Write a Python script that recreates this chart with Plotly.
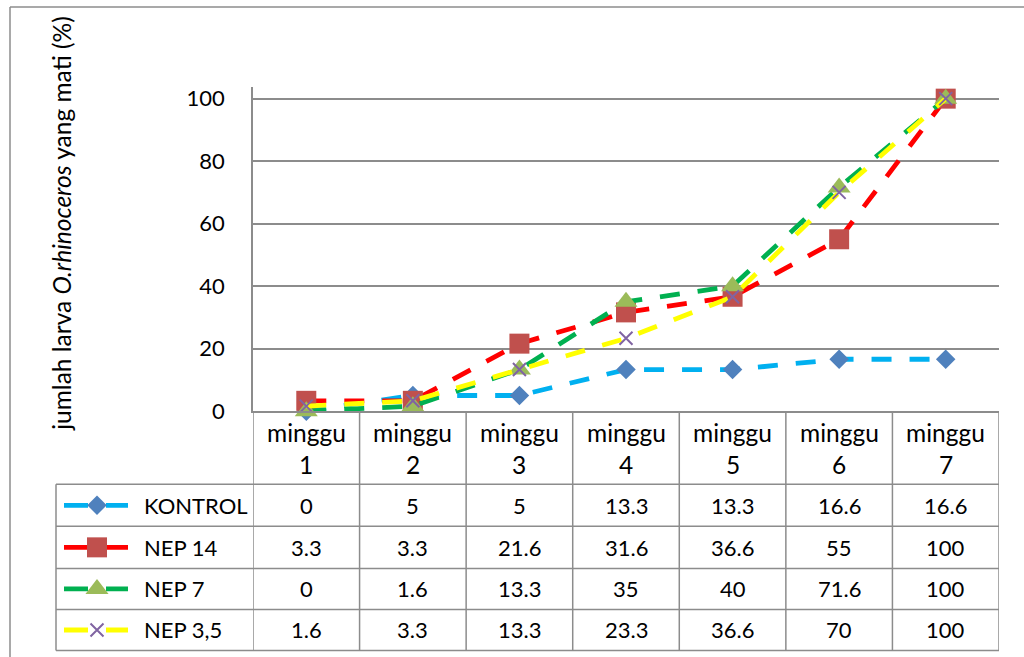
import plotly.graph_objects as go

# ---- data ----
categories = ["minggu 1", "minggu 2", "minggu 3", "minggu 4", "minggu 5", "minggu 6", "minggu 7"]
series_names = ["KONTROL", "NEP 14", "NEP 7", "NEP 3,5"]
kontrol = [0, 5, 5, 13.3, 13.3, 16.6, 16.6]
nep14 = [3.3, 3.3, 21.6, 31.6, 36.6, 55, 100]
nep7 = [0, 1.6, 13.3, 35, 40, 71.6, 100]
nep35 = [1.6, 3.3, 13.3, 23.3, 36.6, 70, 100]
y_ticks = [0, 20, 40, 60, 80, 100]
y_title = "jumlah larva <i>O.rhinoceros</i> yang mati (%)"

# ---- page geometry ----
# the captured page area is a bit taller than the picture; compensate vertically
W = 1024
K = 657 / 673          # picture px per page px (vertical)
A = 2.5                # picture y of page top
H = 674                # figure height in page px

FONT = "Lato, Carlito, 'Open Sans', sans-serif"
FS = 22
FS_HEAD = 24.5
GRAY = "#8c8c8c"
line_colors = ["#00B0F0", "#FF0000", "#00B050", "#FFFF00"]
marker_colors = ["#4F81BD", "#C0504D", "#9BBB59", "#8064A2"]
symbols = ["diamond", "square", "triangle-up", "x-thin"]
msizes = [15, 20, 20, 13]
all_series = [kontrol, nep14, nep7, nep35]

# positions in picture pixels
PX_L, PX_R, PX_T, PX_B = 253, 999, 87, 411
row_lines = [484, 526, 568, 609, 650]
row_centers = [505, 547, 588.5, 629.5]
TABLE_L = 56


def fy(py):  # picture y -> paper fraction
    return 1 - ((py - A) / K) / H


fig = go.Figure()


def make_marker(sym, ms, mc):
    if sym == "x-thin":
        return dict(symbol=sym, size=ms, color=mc, line=dict(color=mc, width=2))
    return dict(symbol=sym, size=ms, color=mc, line=dict(width=0))


for name, vals, lc, mc, sym, ms in zip(series_names, all_series, line_colors, marker_colors, symbols, msizes):
    fig.add_trace(go.Scatter(
        x=categories, y=vals, name=name, mode="lines+markers",
        line=dict(color=lc, width=4.8, dash="20px,18px"),
        marker=make_marker(sym, ms, mc), cliponaxis=False, showlegend=False, hoverinfo="skip",
        xaxis="x", yaxis="y"))

# legend keys inside table (overlay axes in picture pixels)
for i, (lc, mc, sym, ms) in enumerate(zip(line_colors, marker_colors, symbols, msizes)):
    yc = row_centers[i]
    fig.add_trace(go.Scatter(
        x=[64, 128], y=[yc, yc], mode="lines",
        line=dict(color=lc, width=4.8, dash="24px,18px"),
        showlegend=False, hoverinfo="skip", xaxis="x2", yaxis="y2", cliponaxis=False))
    fig.add_trace(go.Scatter(
        x=[97], y=[yc], mode="markers", marker=make_marker(sym, ms, mc),
        showlegend=False, hoverinfo="skip", xaxis="x2", yaxis="y2", cliponaxis=False))

shapes = []
shapes.append(dict(type="line", xref="x2", yref="y2", x0=10, x1=W, y0=7.5, y1=7.5,
                   line=dict(color=GRAY, width=1.5)))
shapes.append(dict(type="line", xref="x2", yref="y2", x0=10, x1=10, y0=7.5, y1=A + K * H,
                   line=dict(color=GRAY, width=1.5)))
for yl in row_lines:
    shapes.append(dict(type="line", xref="x2", yref="y2", x0=TABLE_L, x1=PX_R, y0=yl, y1=yl,
                       line=dict(color=GRAY, width=1.5)))
shapes.append(dict(type="line", xref="x2", yref="y2", x0=TABLE_L, x1=TABLE_L, y0=row_lines[0], y1=row_lines[-1],
                   line=dict(color=GRAY, width=1.5)))
for k in range(len(categories) + 1):
    shapes.append(dict(type="line", xref="x", yref="y2", x0=k - 0.5, x1=k - 0.5, y0=PX_B, y1=row_lines[-1],
                       line=dict(color=GRAY, width=1.5)))

annotations = []
annotations.append(dict(xref="x2", yref="y2", x=62, y=224, text=y_title, textangle=-90,
                        showarrow=False, font=dict(family=FONT, size=FS_HEAD, color="#000")))
for c in categories:
    w, n = c.split(" ")
    annotations.append(dict(xref="x", yref="y2", x=c, y=432, text=w, showarrow=False,
                            font=dict(family=FONT, size=FS_HEAD, color="#000")))
    annotations.append(dict(xref="x", yref="y2", x=c, y=464, text=n, showarrow=False,
                            font=dict(family=FONT, size=FS_HEAD, color="#000")))
for i, (name, vals) in enumerate(zip(series_names, all_series)):
    yc = row_centers[i]
    annotations.append(dict(xref="x2", yref="y2", x=142, y=yc, text=name, xanchor="left",
                            showarrow=False, font=dict(family=FONT, size=FS, color="#000")))
    for c, v in zip(categories, vals):
        annotations.append(dict(xref="x", yref="y2", x=c, y=yc, text=f"{v:g}", showarrow=False,
                                font=dict(family=FONT, size=FS, color="#000")))

fig.update_layout(
    width=W, height=H,
    margin=dict(l=0, r=0, t=0, b=0),
    paper_bgcolor="white", plot_bgcolor="rgba(0,0,0,0)",
    font=dict(family=FONT, size=FS, color="#000"),
    xaxis=dict(domain=[PX_L / W, PX_R / W], type="category", range=[-0.5, 6.5],
               showticklabels=False, showgrid=False, zeroline=False, ticks="",
               showline=True, linecolor=GRAY, linewidth=1.5),
    yaxis=dict(domain=[fy(PX_B), fy(PX_T)], range=[0, (PX_B - PX_T) / ((PX_B - 99) / 100)],
               tickvals=y_ticks, showgrid=True, gridcolor=GRAY, gridwidth=1.5,
               zeroline=False, showline=True, linecolor=GRAY, linewidth=1.5, ticks="",
               ticklabelstandoff=22, tickfont=dict(family=FONT, size=FS, color="#000")),
    xaxis2=dict(domain=[0, 1], range=[0, W], visible=False, fixedrange=True, anchor="y2"),
    yaxis2=dict(domain=[0, 1], range=[A + K * H, A], visible=False, fixedrange=True, anchor="x2"),
    shapes=shapes, annotations=annotations,
)

fig.write_html("out.html", config={"displayModeBar": False},
               post_script="document.body.style.margin='0';")
